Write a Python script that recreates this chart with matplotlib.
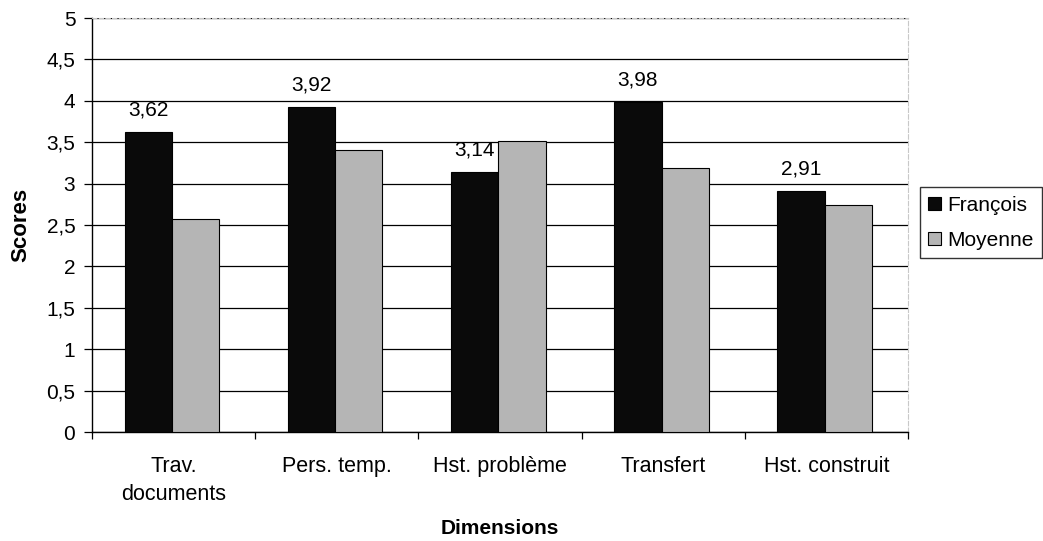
import matplotlib
matplotlib.use("Agg")
import matplotlib.pyplot as plt
import numpy as np
from matplotlib.ticker import MultipleLocator, FuncFormatter

plt.rcParams['font.family'] = ['Liberation Sans', 'DejaVu Sans']

categories = ["Trav.\ndocuments", "Pers. temp.", "Hst. problème", "Transfert", "Hst. construit"]
francois = [3.62, 3.92, 3.14, 3.98, 2.91]
moyenne = [2.57, 3.41, 3.51, 3.19, 2.74]
series_names = ["François", "Moyenne"]

FS = 15

fig = plt.figure(figsize=(10.43, 5.41), dpi=100)
ax = fig.add_axes([92/1043, 109/541, 816/1043, 414/541])

x = np.arange(len(categories))
w = 0.29
ax.bar(x - w/2 - 0.01, francois, w, color='#0a0a0a', edgecolor='black', linewidth=0.8,
       label=series_names[0], zorder=3)
ax.bar(x + w/2 - 0.01, moyenne, w, color='#b5b5b5', edgecolor='black', linewidth=0.8,
       label=series_names[1], zorder=3)

for xi, v in zip(x - w/2 - 0.01, francois):
    ax.annotate(f"{v:.2f}".replace('.', ','), (xi, v), xytext=(0, 9),
                textcoords='offset points', ha='center', va='bottom', fontsize=FS)

ax.set_ylim(0, 5)
ax.set_xlim(-0.5, len(categories) - 0.5)
ax.yaxis.set_major_locator(MultipleLocator(0.5))
ax.yaxis.set_major_formatter(FuncFormatter(lambda v, p: f"{v:g}".replace('.', ',')))
ax.grid(axis='y', color='black', linewidth=0.9, zorder=0)
ax.set_axisbelow(True)

ax.set_xticks(x)
ax.set_xticklabels(categories, fontsize=15.5, linespacing=1.45)
ax.set_xticks(np.arange(len(categories) + 1) - 0.5, minor=True)
ax.tick_params(axis='x', which='major', length=0, pad=17)
ax.tick_params(axis='x', which='minor', length=5, direction='out', width=0.9)
ax.tick_params(axis='y', length=6, direction='out', labelsize=FS, width=0.9, pad=6)

for s in ['top', 'right']:
    ax.spines[s].set_color('#c8c8c8')
    ax.spines[s].set_linestyle((0, (4, 2)))
for s in ['left', 'bottom']:
    ax.spines[s].set_color('black')
    ax.spines[s].set_linewidth(1.0)

ax.set_ylabel("Scores", fontsize=16, fontweight='bold', labelpad=10.5)
ax.set_xlabel("Dimensions", fontsize=15, fontweight='bold', labelpad=10)

leg = ax.legend(loc='center left', bbox_to_anchor=(1.0147, 0.505), fontsize=FS,
                frameon=True, fancybox=False, edgecolor='black', handlelength=0.6,
                handleheight=0.6, handletextpad=0.3, borderpad=0.4, labelspacing=0.78,
                borderaxespad=0)
leg.get_frame().set_linewidth(1.0)

fig.savefig("out.png", dpi=100, facecolor='white')
